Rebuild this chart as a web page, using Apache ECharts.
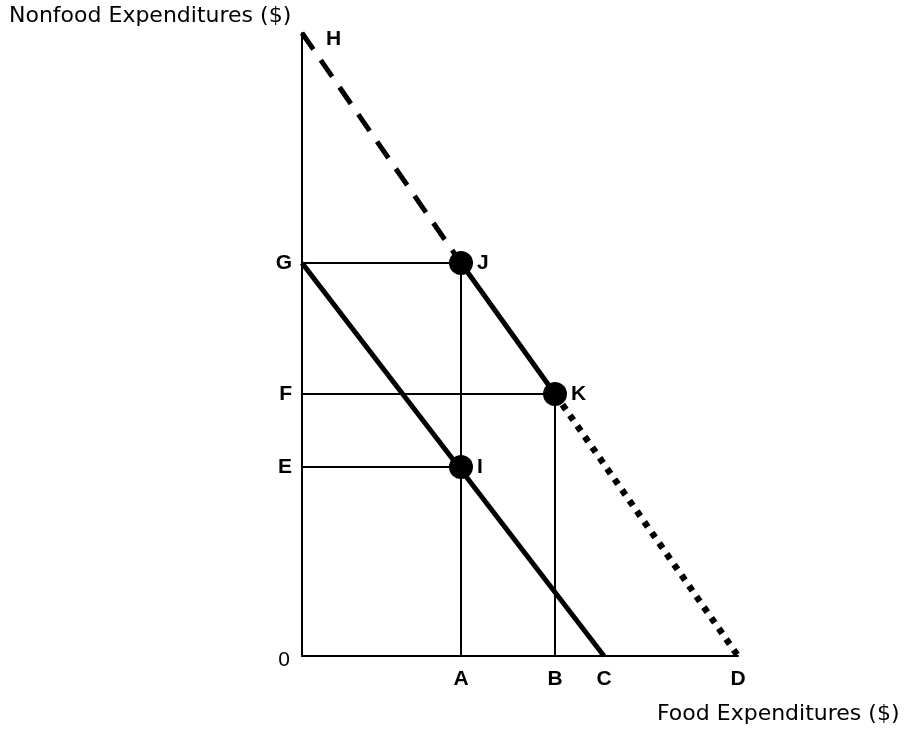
<!DOCTYPE html>
<html><head><meta charset="utf-8">
<script src="https://cdn.jsdelivr.net/npm/echarts@6/dist/echarts.min.js"></script>
<style>html,body{margin:0;padding:0;background:#fff}#c{width:911px;height:729px}</style>
</head><body><div id="c"></div>
<script>
// Food expenditure positions (x axis)
const xA = 159, xB = 253, xC = 302, xD = 436;
// Nonfood expenditure positions (y axis)
const yE = 189, yF = 262, yG = 393, yH = 623;
// Key points
const ptH = [0, yH], ptJ = [xA, yG], ptK = [xB, yF], ptD = [xD, 0];
const ptG = [0, yG], ptI = [xA, yE], ptC = [xC, 0], ptF = [0, yF], ptE = [0, yE];
const dots = [ptJ, ptK, ptI];
const xLetters = [['A', xA], ['B', xB], ['C', xC], ['D', xD]];
const yLetters = [['G', yG], ['F', yF], ['E', yE]];

const chart = echarts.init(document.getElementById('c'));
const thin = {color: '#000', width: 2};
const font = 'Liberation Sans';
const titleFont = 'DejaVu Sans';
function seg(data, style) {
  return {type: 'line', data: data, symbol: 'none', silent: true, animation: false,
    lineStyle: Object.assign({color: '#000', cap: 'butt'}, style)};
}
function lab(text, pos, dist, extra) {
  return Object.assign({show: true, formatter: text, position: pos, distance: dist,
    color: '#000', fontSize: 21, fontWeight: 'bold', fontFamily: font}, extra || {});
}
chart.setOption({
  animation: false,
  grid: {left: 302, top: 33, right: 173, bottom: 73},
  xAxis: {type: 'value', min: 0, max: xD, axisLine: {lineStyle: {color: '#000', width: 2}},
    axisTick: {show: false}, axisLabel: {show: false}, splitLine: {show: false}},
  yAxis: {type: 'value', min: 0, max: yH, axisLine: {show: true, lineStyle: {color: '#000', width: 2}},
    axisTick: {show: false}, axisLabel: {show: false}, splitLine: {show: false}},
  graphic: [
    {type: 'text', left: 9, top: 5, style: {text: 'Nonfood Expenditures ($)', fontSize: 22, fontFamily: titleFont, fill: '#000'}},
    {type: 'text', left: 657, top: 703, style: {text: 'Food Expenditures ($)', fontSize: 22, fontFamily: titleFont, fill: '#000'}}
  ],
  series: [
    seg([ptG, ptJ], thin),
    seg([ptF, ptK], thin),
    seg([ptE, ptI], thin),
    seg([[xA, 0], ptJ], thin),
    seg([[xB, 0], ptK], thin),
    seg([ptH, ptJ], {width: 5, type: [20, 13]}),
    seg([ptJ, ptK], {width: 5}),
    seg([ptK, ptD], {width: 6.5, type: [6, 7]}),
    seg([ptG, ptC], {width: 5}),
    {type: 'scatter', data: dots, symbol: 'circle', symbolSize: 24, itemStyle: {color: '#000', opacity: 1}, silent: true},
    {type: 'scatter', symbolSize: 0, silent: true, itemStyle: {opacity: 1},
      data: [
        {value: ptJ, label: lab('J', 'right', 16)},
        {value: ptK, label: lab('K', 'right', 16)},
        {value: ptI, label: lab('I', 'right', 16)},
        {value: ptH, label: lab('H', 'right', 24, {offset: [0, 6]})},
        {value: [0, 0], label: lab('0', 'left', 12, {fontWeight: 'normal', offset: [0, 4]})}
      ].concat(yLetters.map(d => ({value: [0, d[1]], label: lab(d[0], 'left', 10)})))
       .concat(xLetters.map(d => ({value: [d[1], 0], label: lab(d[0], 'bottom', 13)}))),
      label: {show: true}}
  ]
});
</script></body></html>
